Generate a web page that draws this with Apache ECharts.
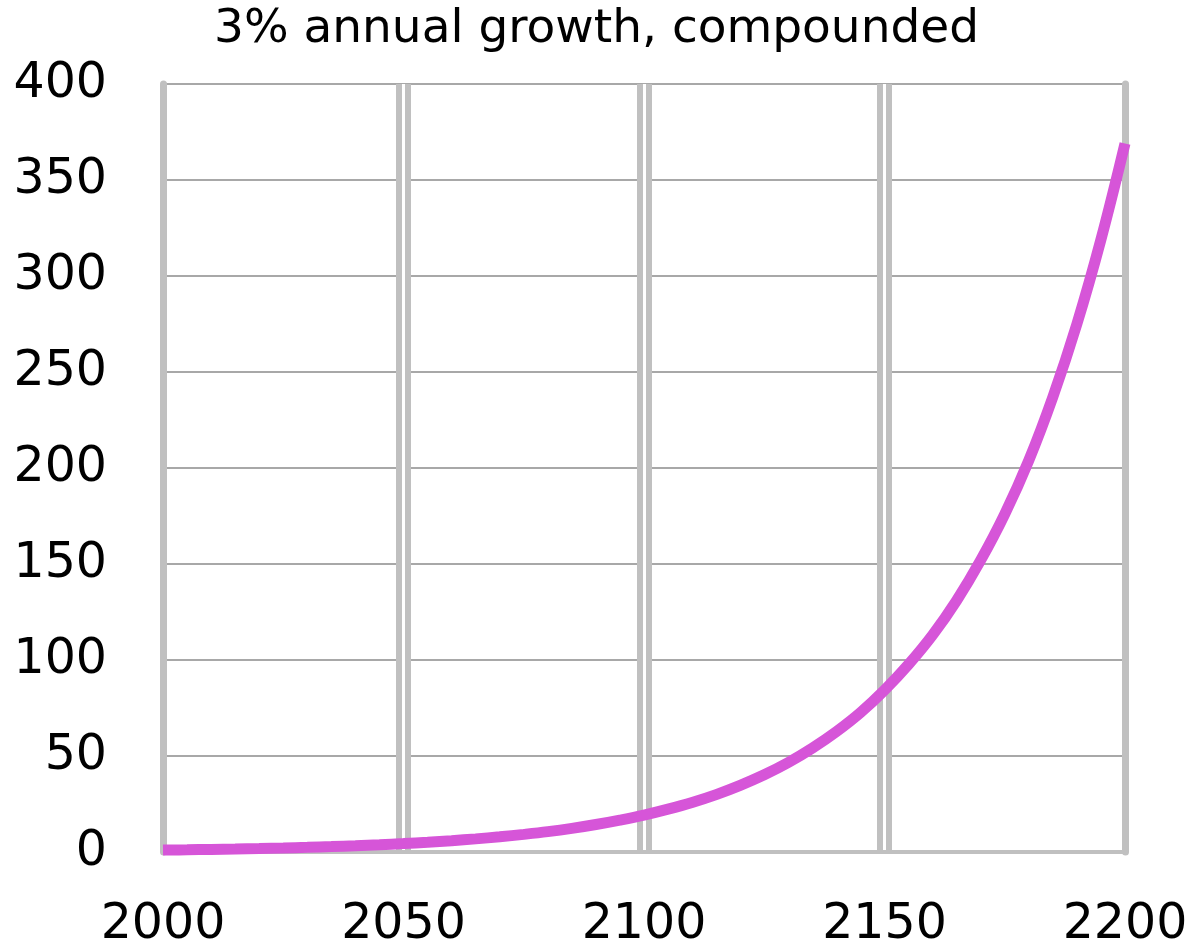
<!DOCTYPE html>
<html>
<head>
<meta charset="utf-8">
<script src="https://cdn.jsdelivr.net/npm/echarts@6/dist/echarts.min.js"></script>
<style>
html,body{margin:0;padding:0;background:#fff;}
#chart{width:1193px;height:947px;}
</style>
</head>
<body>
<div id="chart"></div>
<script>
// Data (value every 5 years)
var titleText = '3% annual growth, compounded';
var years = [2000,2005,2010,2015,2020,2025,2030,2035,2040,2045,2050,2055,2060,2065,2070,2075,2080,2085,2090,2095,2100,2105,2110,2115,2120,2125,2130,2135,2140,2145,2150,2155,2160,2165,2170,2175,2180,2185,2190,2195,2200];
var values = [1,1.16,1.34,1.56,1.81,2.09,2.43,2.81,3.26,3.78,4.38,5.08,5.89,6.83,7.92,9.18,10.6,12.3,14.3,16.6,19.2,22.3,25.8,29.9,34.7,40.2,46.6,54.1,62.7,72.6,84.3,97.7,113,131,152,176,204,237,275,319,369];
var xTicks = [2000,2050,2100,2150,2200];
var yTicks = [0,50,100,150,200,250,300,350,400];

var seriesData = years.map(function(y, i){ return [y, values[i]]; });

var labelFont = 'DejaVu Sans';
var chart = echarts.init(document.getElementById('chart'));
chart.setOption({
  animation: false,
  backgroundColor: '#ffffff',
  title: {
    text: titleText,
    left: 'center',
    top: 1,
    textStyle: {fontFamily: 'DejaVu Sans', fontSize: 47, fontWeight: 'normal', color: '#000'}
  },
  grid: {left: 163, right: 68, top: 84, bottom: 95, containLabel: false, outerBoundsMode: 'none'},
  xAxis: [{
    type: 'value',
    min: xTicks[0], max: xTicks[xTicks.length-1], interval: 50,
    axisLine: {show: true, lineStyle: {color: '#c0c0c0', width: 4}},
    axisTick: {show: false},
    axisLabel: {fontFamily: labelFont, fontSize: 49, color: '#000', margin: 49,
      formatter: function(v){ return String(v); }},
    splitLine: {show: true, showMinLine: false, showMaxLine: false, lineStyle: {color: '#c0c0c0', width: 15}}
  },{
    type: 'value',
    position: 'bottom',
    min: xTicks[0], max: xTicks[xTicks.length-1], interval: 50,
    axisLine: {show: false}, axisTick: {show: false}, axisLabel: {show: false},
    splitLine: {show: true, showMinLine: false, showMaxLine: false, lineStyle: {color: '#ffffff', width: 3}}
  }],
  yAxis: [{
    type: 'value',
    min: yTicks[0], max: yTicks[yTicks.length-1], interval: 50,
    axisLine: {show: true, lineStyle: {color: '#c0c0c0', width: 7}},
    axisTick: {show: false},
    axisLabel: {fontFamily: labelFont, fontSize: 49, color: '#000', margin: 56},
    splitLine: {show: true, lineStyle: {color: '#a8a8a8', width: 2}}
  },{
    type: 'value',
    position: 'right',
    min: yTicks[0], max: yTicks[yTicks.length-1], interval: 50,
    axisLine: {show: true, lineStyle: {color: '#c0c0c0', width: 7}},
    axisTick: {show: false}, axisLabel: {show: false}, splitLine: {show: false}
  }],
  series: [{
    type: 'line',
    xAxisIndex: 0, yAxisIndex: 0,
    data: seriesData,
    smooth: 0.4,
    showSymbol: false,
    symbol: 'none',
    clip: true,
    lineStyle: {color: '#d655d8', width: 11, cap: 'butt'},
    z: 5
  }]
});
</script>
</body>
</html>
